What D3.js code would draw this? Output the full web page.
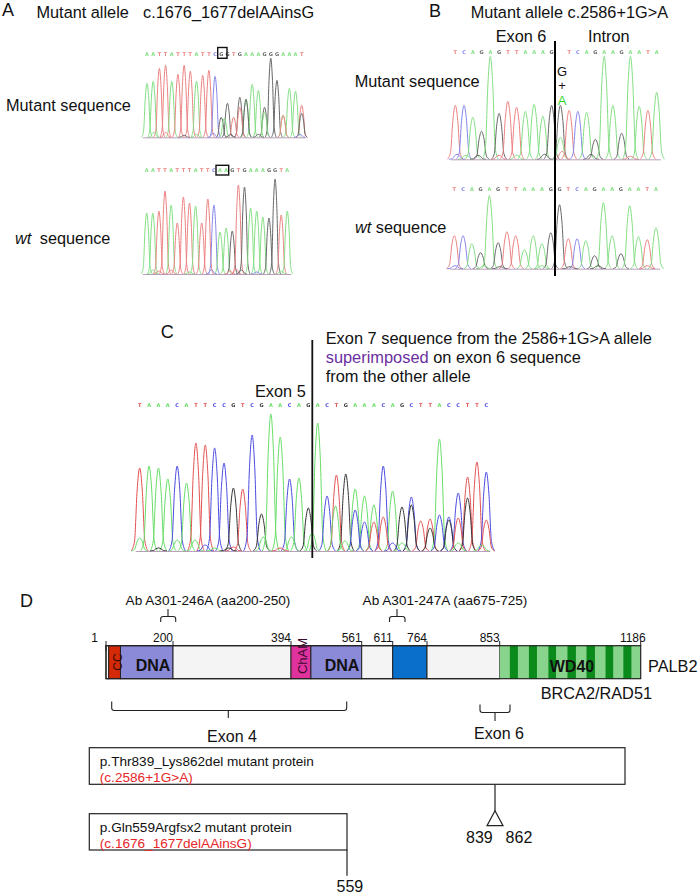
<!DOCTYPE html>
<html>
<head>
<meta charset="utf-8">
<script src="https://cdn.jsdelivr.net/npm/d3@7"></script>
<style>
  body { margin: 0; background: #fff; }
  svg { display: block; }
  text { font-family: "Liberation Sans", Arial, sans-serif; fill: #111; }
  .base { font-size: 5px; font-weight: bold; text-anchor: middle; font-family: "DejaVu Sans", sans-serif; }
  .peak { fill: none; stroke-width: 1; stroke-linejoin: round; }
</style>
</head>
<body>
<svg id="chart" width="699" height="894">
  <defs><filter id="soft" x="-5%" y="-5%" width="110%" height="110%"><feGaussianBlur stdDeviation="0.35"/></filter></defs>
</svg>
<script>
// --- chromatogram data: called base and peak height for every position ---
const aMutSeq = 'AATTATTTATTCGGTGAAAGGGAAAT'.split('');
const aMutHeights = [54, 56, 69, 72, 56, 63, 72, 66, 56, 62, 67, 61, 20, 34, 20, 40, 38, 53, 47, 30, 79, 57, 22, 49, 46, 32];
const aMutExtra = [['A', 12.5, 19], ['T', 15, 30], ['G', 16, 38], ['A', 19, 25], ['T', 22, 22], ['G', 25, 24],
  ['A', 1.1, 5], ['T', 3, 5], ['G', 6, 2], ['A', 8, 3], ['C', 10.7, 4], ['G', 13.5, 3], ['G', 18, 3], ['C', 24.7, 3]];

const aWtSeq = 'AATTATTTATTCAAGTGAAAGGTA'.split('');
const aWtHeights = [61, 61, 63, 83, 69, 51, 77, 71, 68, 51, 75, 69, 42, 46, 43, 89, 87, 66, 63, 57, 56, 95, 59, 63];
const aWtExtra = [['A', 1, 4], ['T', 2, 3], ['T', 4, 4], ['A', 7, 2], ['C', 10.6, 4], ['T', 13.6, 3], ['T', 14.6, 5], ['G', 15.5, 4], ['C', 18, 2], ['A', 22, 3]];

const bMutSeq = 'TCAGAGTTAAAG TCAGAAGAATA'.split('').map(d => d === ' ' ? '' : d);
const bMutHeights = [54, 54, 42, 28, 103, 46, 58, 52, 48, 55, 43, 54, 54, 49, 48, 47, 20, 103, 54, 26, 103, 53, 49, 67];
const bMutCalls = ['T', 'C', 'A', 'G', 'A', 'G', 'T', 'T', 'A', 'A', 'A', 'G', 'G', 'T', 'C', 'A', 'G', 'A', 'A', 'G', 'A', 'A', 'T', 'A'];
const bMutExtra = [['A', 12, 22], ['C', 0.2, 5], ['A', 1.2, 4], ['G', 2.6, 4], ['T', 5, 4], ['A', 7, 4], ['G', 10.2, 5], ['T', 12.2, 8], ['G', 15.5, 5], ['T', 20, 3]];

const bWtSeq = 'TCAGAGTTAAAGGTCAGAAGAATA'.split('');
const bWtHeights = [33, 33, 25, 16, 73, 26, 37, 33, 19, 33, 25, 36, 64, 30, 30, 28, 13, 66, 33, 15, 63, 32, 29, 41];
const bWtExtra = [['C', 0.1, 3], ['A', 3.4, 3], ['G', 5.2, 2], ['A', 10, 3], ['G', 13.2, 2], ['G', 16.4, 3], ['T', 22, 3]];

const cSeq = 'TAAACATTCCGTCGAACAGACTGAAACAGCTTACCTTC'.split('');
const cHeights = [83, 85, 83, 72, 85, 68, 108, 106, 103, 88, 63, 62, 116, 37, 137, 114, 72, 73, 43, 128, 55, 76, 77, 62, 55, 46, 85, 60, 44, 54, 30, 32, 112, 34, 58, 74, 89, 79];
const cExtra = [['A', 20.9, 45], ['C', 23, 41], ['C', 24, 29], ['T', 25, 29], ['T', 26, 34], ['G', 29, 46], ['G', 31, 23], ['C', 32, 36], ['G', 33, 31], ['T', 34, 33], ['G', 35, 53], ['T', 37, 31],
  ['A', 0, 13], ['A', 4, 11], ['A', 5.9, 11], ['C', 7, 6], ['A', 13.2, 14], ['A', 16.2, 14], ['A', 18.4, 18], ['A', 8, 3], ['G', 2, 3], ['T', 10, 4], ['A', 21.9, 10], ['A', 28, 8], ['C', 27, 8], ['A', 34, 8], ['A', 36.5, 6], ['G', 9.5, 3], ['T', 15, 3]];

// --- PALB2 protein map ---
const aaBreaks = [1, 200, 394, 561, 611, 764, 853, 1186];
const aaTickLabels = ['1', '200', '394', '561', '611', '764', '853', '1186'];
const domainStarts = [1, 9, 44, 200, 394, 441, 561, 611, 764];
const domainEnds = [9, 44, 200, 394, 441, 561, 611, 764, 853];
const domainColors = ['#ffffff', '#d42a08', '#8a8ad8', '#f4f4f4', '#e0329c', '#8a8ad8', '#f4f4f4', '#0a6fcb', '#f4f4f4'];
const wdStripeStarts = [877, 922, 968, 1013, 1058, 1103, 1145];
const wdStripeEnds = [896, 941, 986, 1033, 1078, 1121, 1164];

const baseColor = { A: '#83de83', T: '#ec8080', C: '#8484ea', G: '#666666' };
const cBaseColor = { A: '#66dd66', T: '#e25050', C: '#4a4ae0', G: '#333333' };

const svg = d3.select('#chart');

function drawChrom(cfg) {
    const n = cfg.heights.length;
    const x = d3.scaleLinear().domain([0, n - 1]).range([cfg.x0, cfg.x1]);
    const y = d3.scaleLinear().domain([0, 150]).range([cfg.base, cfg.base - 150]);
    const colors = cfg.colors || baseColor;
    const g = svg.append('g').attr('filter', 'url(#soft)');
    const peakLine = d3.line().x(d => x(d[0])).y(d => y(d[1])).curve(d3.curveMonotoneX);
    const spread = [-0.9, -0.55, -0.28, 0, 0.28, 0.55, 0.9];
    const shape = [0, 0.12, 0.72, 1, 0.72, 0.12, 0];

    const peaks = (cfg.calls || cfg.seq).map((b, i) => [b, i, cfg.heights[i]]).concat(cfg.extra || []);
    g.selectAll('path.peak').data(peaks).join('path')
        .attr('class', 'peak')
        .attr('stroke', d => colors[d[0]])
        .attr('d', d => peakLine(spread.map((s, k) => [d[1] + s, d[2] * shape[k]])));

    g.append('line')
        .attr('x1', x(0) - 4).attr('x2', x(n - 1) + 4)
        .attr('y1', cfg.base + 0.5).attr('y2', cfg.base + 0.5)
        .attr('stroke', '#aa88aa').attr('stroke-width', 0.8);

    g.selectAll('text.base').data(cfg.seq).join('text')
        .attr('class', 'base')
        .attr('x', (d, i) => x(i))
        .attr('y', cfg.labelY)
        .style('fill', d => colors[d] || '#000')
        .text(d => d);
    if (cfg.box) {
        svg.append('rect')
            .attr('x', cfg.box[0]).attr('y', cfg.box[1])
            .attr('width', cfg.box[2]).attr('height', cfg.box[3])
            .attr('fill', 'none').attr('stroke', '#111').attr('stroke-width', 1.4);
    }
}

drawChrom({ seq: aMutSeq, heights: aMutHeights, extra: aMutExtra, x0: 147, x1: 301.7, base: 137.3, labelY: 55.5, box: [217.7, 47.5, 9.3, 10.8] });
drawChrom({ seq: aWtSeq, heights: aWtHeights, extra: aWtExtra, x0: 146.7, x1: 287.3, base: 274, labelY: 172, box: [216, 165.3, 12.7, 9.7] });
drawChrom({ seq: bMutSeq, calls: bMutCalls, heights: bMutHeights, extra: bMutExtra, x0: 455.3, x1: 656.7, base: 159.3, labelY: 54 });
drawChrom({ seq: bWtSeq, heights: bWtHeights, extra: bWtExtra, x0: 454.3, x1: 656, base: 268.7, labelY: 191 });
drawChrom({ seq: cSeq, heights: cHeights, extra: cExtra, colors: cBaseColor, x0: 139.7, x1: 486.3, base: 551, labelY: 407 });

// --- simple text helper ---
function label(x, y, str, size, opts) {
    opts = opts || {};
    const t = svg.append('text').attr('x', x).attr('y', y)
        .style('font-size', size + 'px')
        .text(str);
    if (opts.anchor) t.attr('text-anchor', opts.anchor);
    if (opts.weight) t.style('font-weight', opts.weight);
    if (opts.color) t.style('fill', opts.color);
    if (opts.rotate) t.attr('transform', `rotate(${opts.rotate} ${x} ${y})`);
    return t;
}
function wtLabel(x, y, gap) {
    const t = svg.append('text').attr('x', x).attr('y', y).style('font-size', '16.3px');
    t.append('tspan').style('font-style', 'italic').text('wt');
    t.append('tspan').attr('dx', gap).text(' sequence');
}

// Panel A
label(2, 16, 'A', 18);
label(36.5, 18, 'Mutant allele', 16.3);
label(143, 18, 'c.1676_1677delAAinsG', 16.3);
label(6, 111, 'Mutant sequence', 16.3);
wtLabel(15, 244, 4);

// Panel B
label(429, 17, 'B', 18);
label(470.7, 18, 'Mutant allele c.2586+1G>A', 16.3);
label(495.7, 42, 'Exon 6', 16.3);
label(588, 42, 'Intron', 16.3);
label(354.7, 87, 'Mutant sequence', 16.3);
wtLabel(355, 233, 0);
label(562, 76, 'G', 13, { anchor: 'middle' });
label(562, 90, '+', 13, { anchor: 'middle' });
label(562, 105, 'A', 13, { anchor: 'middle', color: '#35d435' });
svg.append('line').attr('x1', 555).attr('x2', 555).attr('y1', 41).attr('y2', 276)
    .attr('stroke', '#000').attr('stroke-width', 2);

// Panel C
label(160.7, 338, 'C', 18);
label(325.7, 343.5, 'Exon 7 sequence from the 2586+1G>A allele', 16.4);
const sup = label(325.7, 362.5, '', 16.4);
sup.append('tspan').style('fill', '#6a30a0').text('superimposed');
sup.append('tspan').text(' on exon 6 sequence');
label(325.7, 381.5, 'from the other allele', 16.4);
label(255, 396.5, 'Exon 5', 16.3);
svg.append('line').attr('x1', 312.3).attr('x2', 312.3).attr('y1', 340).attr('y2', 558)
    .attr('stroke', '#111').attr('stroke-width', 1.8);

// Panel D: piecewise scale, the map is not drawn to a constant aa/px ratio
const aa = d3.scaleLinear().domain(aaBreaks).range([106, 173, 291, 361.7, 392.7, 427, 499.7, 640.7]);
const barTop = 645.7, barH = 33;

label(20, 607, 'D', 18);
label(208, 605, 'Ab A301-246A (aa200-250)', 13.6, { anchor: 'middle' });
label(445, 605, 'Ab A301-247A (aa675-725)', 13.6, { anchor: 'middle' });

svg.append('g').selectAll('rect').data(domainStarts).join('rect')
    .attr('x', d => aa(d))
    .attr('y', barTop)
    .attr('width', (d, i) => aa(domainEnds[i]) - aa(d))
    .attr('height', barH)
    .attr('fill', (d, i) => domainColors[i])
    .attr('stroke', '#222').attr('stroke-width', 1);

svg.append('rect').attr('x', aa(853)).attr('y', barTop)
    .attr('width', aa(1186) - aa(853)).attr('height', barH).attr('fill', '#88d48c');
svg.append('g').selectAll('rect').data(wdStripeStarts).join('rect')
    .attr('x', d => aa(d))
    .attr('y', barTop)
    .attr('width', (d, i) => aa(wdStripeEnds[i]) - aa(d))
    .attr('height', barH)
    .attr('fill', '#0b8a1c');
svg.append('rect').attr('x', aa(1)).attr('y', barTop)
    .attr('width', aa(1186) - aa(1)).attr('height', barH)
    .attr('fill', 'none').attr('stroke', '#222').attr('stroke-width', 1.2);

// tick labels sit up and to the left of each boundary
svg.append('g').selectAll('line').data(aaBreaks).join('line')
    .attr('x1', d => aa(d)).attr('x2', d => aa(d))
    .attr('y1', 641).attr('y2', (d, i) => i === 0 ? 651 : 646)
    .attr('stroke', '#222').attr('stroke-width', 1);
svg.append('g').selectAll('text').data(aaBreaks).join('text')
    .attr('x', (d, i) => i === 0 ? aa(d) - 8 : i === 7 ? aa(d) + 5 : aa(d))
    .attr('y', 642)
    .attr('text-anchor', 'end')
    .style('font-size', '12px')
    .text((d, i) => aaTickLabels[i]);

label(153, 671, 'DNA', 16, { anchor: 'middle', weight: 'bold' });
label(342, 671, 'DNA', 16, { anchor: 'middle', weight: 'bold' });
label(572, 672, 'WD40', 16, { anchor: 'middle', weight: 'bold' });
label(122, 662, 'CC', 12, { anchor: 'middle', rotate: -90, color: '#3a0a00' });
label(306.5, 656, 'ChAM', 13, { anchor: 'middle', rotate: -90, color: '#3a0a30' });
label(648, 672, 'PALB2', 16.3);
label(540.7, 699, 'BRCA2/RAD51', 16.3);

function bracket(x0, x1, yEnd, yBar, xStem, yStem) {
    const r = 2.5, dir = yBar > yEnd ? 1 : -1;
    const p = d3.path();
    p.moveTo(x0, yEnd);
    p.lineTo(x0, yBar - dir * r);
    p.quadraticCurveTo(x0, yBar, x0 + r, yBar);
    p.lineTo(x1 - r, yBar);
    p.quadraticCurveTo(x1, yBar, x1, yBar - dir * r);
    p.lineTo(x1, yEnd);
    p.moveTo(xStem, yBar);
    p.lineTo(xStem, yStem);
    svg.append('path').attr('d', p.toString())
        .attr('fill', 'none').attr('stroke', '#222').attr('stroke-width', 1.1);
}
bracket(160.7, 175.7, 622, 616.5, 168, 609);
bracket(389.5, 405, 622, 616.5, 397, 609);
bracket(111.7, 346.7, 701.5, 710.5, 228.3, 718);
bracket(480, 510, 704.5, 712.5, 495, 721);
label(232, 741.5, 'Exon 4', 16, { anchor: 'middle' });
label(499, 739, 'Exon 6', 16, { anchor: 'middle' });

// mutant proteins
function proteinBox(x0, x1, y0, y1, title, sub) {
    svg.append('rect').attr('x', x0).attr('y', y0)
        .attr('width', x1 - x0).attr('height', y1 - y0)
        .attr('fill', 'none').attr('stroke', '#222').attr('stroke-width', 1.2);
    label(x0 + 10.5, y0 + 18.5, title, 13.6);
    label(x0 + 10.5, y0 + 34, sub, 13.6, { color: '#e8262a' });
}
proteinBox(89.3, 625, 747.7, 784.3, 'p.Thr839_Lys862del mutant protein', '(c.2586+1G>A)');
proteinBox(89.3, 347, 813.7, 850, 'p.Gln559Argfsx2 mutant protein', '(c.1676_1677delAAinsG)');

svg.append('line').attr('x1', 495).attr('x2', 495).attr('y1', 784.3).attr('y2', 810.7)
    .attr('stroke', '#222').attr('stroke-width', 1.2);
svg.append('path').attr('d', d3.line()([[495, 810.7], [503, 825.7], [487, 825.7]]) + 'Z')
    .attr('fill', 'none').attr('stroke', '#222').attr('stroke-width', 1.2);
label(466, 843, '839', 16);
label(505.6, 843, '862', 16);

svg.append('line').attr('x1', 347).attr('x2', 347).attr('y1', 850).attr('y2', 875.7)
    .attr('stroke', '#222').attr('stroke-width', 1.2);
label(336.5, 891.5, '559', 16);
</script>
</body>
</html>
